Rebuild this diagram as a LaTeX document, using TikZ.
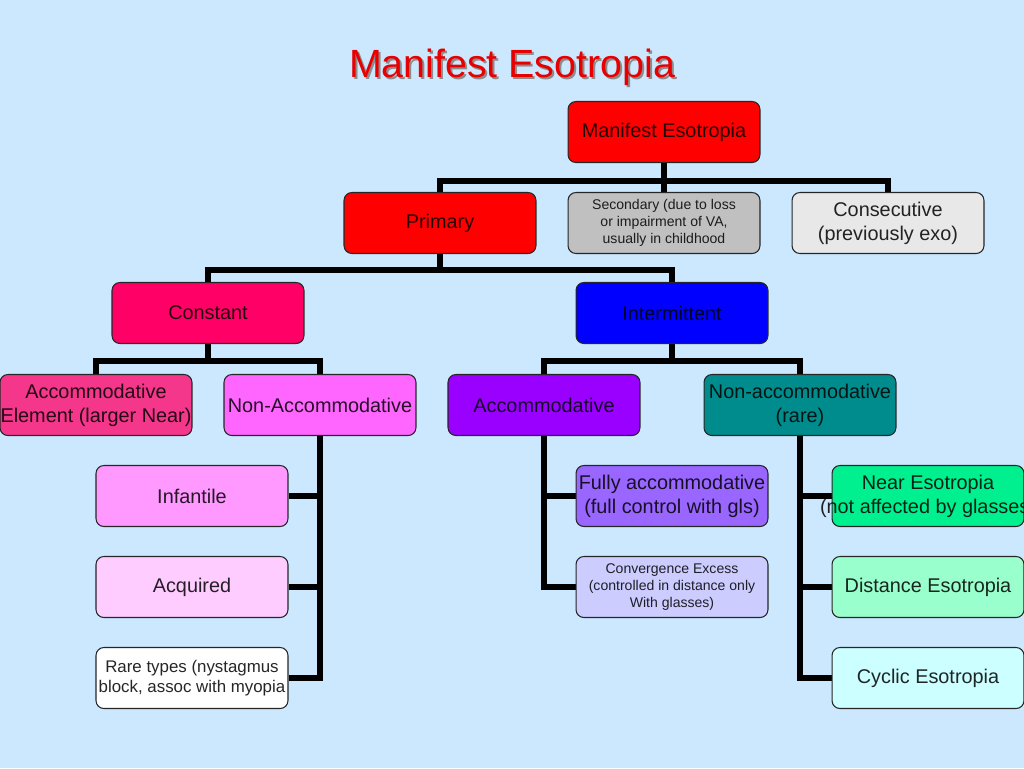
\documentclass[tikz,border=0pt]{standalone}
\usepackage{fontspec}
\setmainfont{Liberation Sans}
\definecolor{esobg}{RGB}{204,232,255}
\definecolor{esored}{RGB}{255,0,0}
\definecolor{esotitle}{RGB}{232,0,0}
\definecolor{esogray}{RGB}{192,192,192}
\definecolor{esolight}{RGB}{232,232,232}
\definecolor{esocrim}{RGB}{255,0,102}
\definecolor{esoblue}{RGB}{0,0,255}
\definecolor{esohot}{RGB}{245,55,140}
\definecolor{esomag}{RGB}{255,102,255}
\definecolor{esopink}{RGB}{255,153,255}
\definecolor{esopale}{RGB}{255,204,255}
\definecolor{esoviolet}{RGB}{153,0,255}
\definecolor{esoteal}{RGB}{0,140,140}
\definecolor{esolilac}{RGB}{153,102,255}
\definecolor{esoperi}{RGB}{204,204,255}
\definecolor{esomint}{RGB}{0,240,144}
\definecolor{esosea}{RGB}{153,255,204}
\definecolor{esoice}{RGB}{204,255,255}
\pgfdeclarelayer{back}
\pgfsetlayers{back,main}
\newcommand{\fitline}[1]{\makebox[3.6cm]{#1}}

\begin{document}
\begin{tikzpicture}[x=0.02cm, y=-0.02cm,
  ebox/.style={draw=black!85, line width=0.6pt, rounded corners=4.5pt,
               minimum width=3.84cm, minimum height=1.22cm, inner sep=0pt,
               align=center, font=\fontsize{11.3}{13.6}\selectfont, text opacity=0.85},
  small/.style={font=\fontsize{8}{9.6}\selectfont},
  link/.style={line width=3.4pt, black}]
  \useasboundingbox (0,0) rectangle (1024,768);
  \begin{pgfonlayer}{back}
    \fill[esobg] (0,0) rectangle (1024,768);
  \end{pgfonlayer}

  % Title
  \node[font=\fontsize{22.4}{26}\selectfont, text=black!45] (titleshadow) at (514,69) {Manifest Esotropia};
  \node[font=\fontsize{22.4}{26}\selectfont, text=esotitle] (title) at (512,67) {Manifest Esotropia};

  % TOP row
  \node[ebox, fill=esored] (me) at (664,132) {Manifest Esotropia};
  \node[ebox, fill=esored] (prim) at (440,223) {Primary};
  \node[ebox, small, fill=esogray] (sec) at (664,223) {Secondary (due to loss\\or impairment of VA,\\usually in childhood};
  \node[ebox, fill=esolight] (cons) at (888,223) {Consecutive\\(previously exo)};

  % Constant / Intermittent
  \node[ebox, fill=esocrim] (const) at (208,313) {Constant};
  \node[ebox, fill=esoblue] (inter) at (672,313) {Intermittent};

  % LEFT branch: Constant
  \node[ebox, fill=esohot] (accel) at (96,405) {Accommodative\\\fitline{Element (larger Near)}};
  \node[ebox, fill=esomag] (nacc) at (320,405) {Non-Accommodative};
  \node[ebox, fill=esopink] (inf) at (192,496) {Infantile};
  \node[ebox, fill=esopale] (acq) at (192,587) {Acquired};
  \node[ebox, fill=white, font=\fontsize{9.6}{11.3}\selectfont] (rare) at (192,678)
    {Rare types (nystagmus\\\fitline{block, assoc with myopia}};

  % RIGHT branch: Intermittent
  \node[ebox, fill=esoviolet] (acc) at (544,405) {Accommodative};
  \node[ebox, fill=esoteal] (nacr) at (800,405) {Non-accommodative\\(rare)};
  \node[ebox, fill=esolilac] (full) at (672,496) {Fully accommodative\\(full control with gls)};
  \node[ebox, fill=esoperi, font=\fontsize{8}{9.6}\selectfont] (conv) at (672,587)
    {Convergence Excess\\(controlled in distance only\\With glasses)};
  \node[ebox, fill=esomint] (near) at (928,496) {Near Esotropia\\\fitline{(not affected by glasses)}};
  \node[ebox, fill=esosea] (dist) at (928,587) {Distance Esotropia};
  \node[ebox, fill=esoice] (cyc) at (928,678) {Cyclic Esotropia};

  % Connectors
  \begin{pgfonlayer}{back}
    \draw[link] (me.south) -- ++(0,18) -| (prim.north);
    \draw[link] (me.south) -- (sec.north);
    \draw[link] (me.south) -- ++(0,18) -| (cons.north);

    \draw[link] (prim.south) -- ++(0,16) -| (const.north);
    \draw[link] (prim.south) -- ++(0,16) -| (inter.north);

    \draw[link] (const.south) -- ++(0,17) -| (accel.north);
    \draw[link] (const.south) -- ++(0,17) -| (nacc.north);
    \draw[link] (nacc.south) |- (inf.east);
    \draw[link] (nacc.south) |- (acq.east);
    \draw[link] (nacc.south) |- (rare.east);

    \draw[link] (inter.south) -- ++(0,17) -| (acc.north);
    \draw[link] (inter.south) -- ++(0,17) -| (nacr.north);
    \draw[link] (acc.south) |- (full.west);
    \draw[link] (acc.south) |- (conv.west);
    \draw[link] (nacr.south) |- (near.west);
    \draw[link] (nacr.south) |- (dist.west);
    \draw[link] (nacr.south) |- (cyc.west);
  \end{pgfonlayer}
\end{tikzpicture}
\end{document}
